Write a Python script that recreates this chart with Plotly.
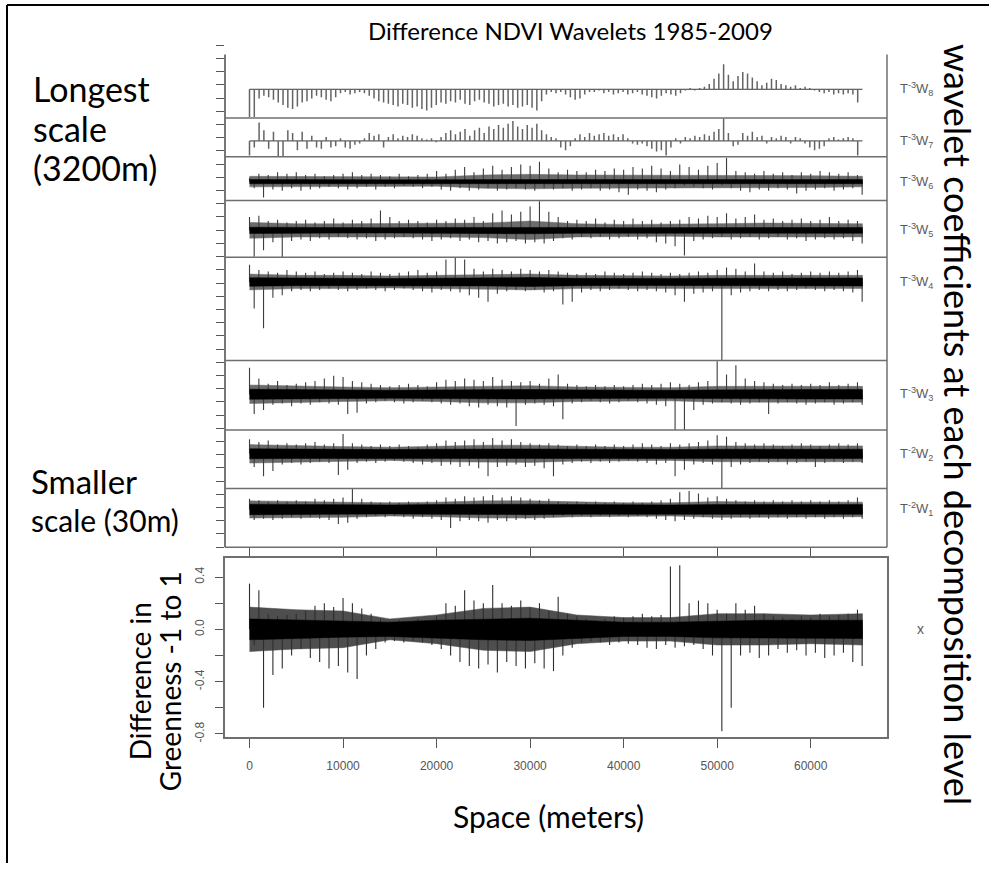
import plotly.graph_objects as go

# ---------------------------------------------------------------- data
# coarse-scale coefficients, one every 512 m along the transect
w8_step_m = 512
w8 = [-0.21, -0.21, -0.07, -0.05, -0.06, -0.08, -0.10, -0.12, -0.14, -0.15,
      -0.13, -0.10, -0.09, -0.07, -0.05, -0.06, -0.08, -0.09, -0.06, -0.03,
      -0.02, -0.04, -0.03, -0.02, -0.03, -0.05, -0.07, -0.09, -0.10, -0.11,
      -0.12, -0.13, -0.11, -0.12, -0.14, -0.13, -0.15, -0.16, -0.14, -0.12,
      -0.10, -0.11, -0.09, -0.10, -0.08, -0.11, -0.12, -0.09, -0.08, -0.10,
      -0.11, -0.13, -0.12, -0.11, -0.13, -0.12, -0.14, -0.13, -0.12, -0.14,
      -0.16, -0.09, -0.04, -0.02, -0.03, -0.02, -0.04, -0.06, -0.08, -0.07,
      -0.04, -0.02, -0.02, -0.01, -0.03, -0.02, -0.04, -0.03, -0.02, -0.04,
      -0.03, -0.02, -0.04, -0.05, -0.06, -0.07, -0.05, -0.03, -0.04, -0.05,
      -0.03, -0.01, 0.01, -0.01, 0.01, 0.02, 0.04, 0.08, 0.12, 0.19,
      0.11, 0.06, 0.10, 0.13, 0.12, 0.09, 0.06, 0.03, 0.05, 0.08,
      0.07, 0.04, 0.03, 0.02, 0.03, 0.01, 0.02, 0.01, -0.01, -0.02,
      -0.03, -0.02, -0.04, -0.03, -0.04, -0.03, -0.04, -0.10]
w7 = [-0.11, -0.05, 0.14, 0.08, -0.06, 0.07, -0.12, -0.13, 0.08, 0.06,
      -0.07, 0.07, -0.06, 0.04, -0.05, -0.06, 0.03, -0.05, -0.04, 0.02,
      -0.05, -0.06, -0.03, -0.02, 0.02, 0.06, 0.04, 0.05, -0.05, 0.03,
      0.05, 0.02, 0.04, 0.03, 0.05, 0.04, 0.02, 0.01, 0.02, -0.01,
      0.03, 0.06, 0.08, 0.05, 0.07, 0.09, 0.04, 0.08, 0.10, 0.06,
      0.11, 0.09, 0.12, 0.10, 0.13, 0.15, 0.11, 0.09, 0.12, 0.10,
      0.13, 0.08, 0.05, 0.03, 0.02, -0.05, -0.07, -0.04, 0.02, 0.05,
      0.03, 0.06, 0.04, 0.05, 0.06, 0.04, 0.05, 0.03, 0.05, 0.02,
      -0.02, -0.03, -0.02, -0.04, -0.06, -0.08, -0.07, -0.11, -0.05, 0.02,
      -0.02, 0.03, 0.02, 0.04, 0.03, 0.05, 0.04, 0.07, 0.09, 0.17,
      0.06, -0.04, -0.03, 0.06, 0.04, 0.07, 0.03, 0.04, -0.02, 0.03,
      0.02, 0.04, 0.03, -0.02, 0.03, 0.02, -0.02, -0.05, -0.07, -0.06,
      -0.04, 0.02, 0.03, 0.01, 0.02, 0.03, 0.02, -0.11]

# finer scales: largest positive / negative excursion in each 1 km bin
bin_step_m = 1000
w6_up = [0.03, 0.06, 0.05, 0.07, 0.06, 0.07, 0.05, 0.06, 0.04, 0.05,
         0.06, 0.07, 0.05, 0.06, 0.05, 0.04, 0.06, 0.04, 0.05, 0.06,
         0.08, 0.06, 0.09, 0.11, 0.07, 0.10, 0.12, 0.09, 0.11, 0.13,
         0.12, 0.15, 0.10, 0.07, 0.09, 0.08, 0.07, 0.09, 0.08, 0.10,
         0.09, 0.11, 0.10, 0.12, 0.10, 0.08, 0.13, 0.11, 0.09, 0.12,
         0.14, 0.18, 0.08, 0.07, 0.06, 0.08, 0.06, 0.07, 0.05, 0.07,
         0.06, 0.08, 0.07, 0.06, 0.07, 0.05]
w6_dn = [-0.05, -0.12, -0.06, -0.07, -0.05, -0.07, -0.06, -0.05, -0.04, -0.05,
         -0.06, -0.05, -0.04, -0.06, -0.04, -0.05, -0.03, -0.04, -0.05, -0.04,
         -0.06, -0.07, -0.05, -0.07, -0.06, -0.05, -0.07, -0.06, -0.05, -0.06,
         -0.07, -0.05, -0.06, -0.05, -0.07, -0.06, -0.05, -0.07, -0.06, -0.08,
         -0.10, -0.06, -0.07, -0.08, -0.06, -0.05, -0.03, -0.04, -0.05, -0.06,
         -0.03, -0.05, -0.07, -0.08, -0.06, -0.07, -0.05, -0.06, -0.09, -0.07,
         -0.06, -0.05, -0.07, -0.06, -0.05, -0.10]
w5_up = [0.10, 0.11, 0.07, 0.08, 0.06, 0.07, 0.08, 0.06, 0.07, 0.09,
         0.06, 0.08, 0.07, 0.09, 0.15, 0.10, 0.07, 0.08, 0.07, 0.06,
         0.08, 0.07, 0.09, 0.08, 0.10, 0.07, 0.13, 0.15, 0.12, 0.14,
         0.18, 0.22, 0.14, 0.10, 0.07, 0.08, 0.07, 0.09, 0.06, 0.08,
         0.07, 0.09, 0.07, 0.08, 0.06, 0.07, 0.08, 0.10, 0.09, 0.11,
         0.10, 0.13, 0.09, 0.10, 0.12, 0.08, 0.09, 0.07, 0.08, 0.09,
         0.07, 0.08, 0.10, 0.07, 0.08, 0.07]
w5_dn = [-0.20, -0.15, -0.09, -0.22, -0.08, -0.07, -0.08, -0.06, -0.07, -0.05,
         -0.06, -0.07, -0.06, -0.08, -0.07, -0.06, -0.05, -0.06, -0.07, -0.08,
         -0.07, -0.06, -0.08, -0.07, -0.09, -0.08, -0.10, -0.09, -0.08, -0.10,
         -0.09, -0.10, -0.08, -0.06, -0.07, -0.05, -0.06, -0.05, -0.07, -0.06,
         -0.05, -0.07, -0.06, -0.09, -0.10, -0.12, -0.19, -0.08, -0.07, -0.06,
         -0.05, -0.07, -0.06, -0.05, -0.07, -0.06, -0.05, -0.07, -0.06, -0.08,
         -0.07, -0.06, -0.07, -0.06, -0.08, -0.10]
w4_up = [0.13, 0.09, 0.08, 0.07, 0.09, 0.08, 0.07, 0.08, 0.06, 0.07,
         0.08, 0.07, 0.06, 0.08, 0.07, 0.06, 0.07, 0.08, 0.09, 0.07,
         0.08, 0.17, 0.19, 0.17, 0.10, 0.08, 0.10, 0.09, 0.08, 0.10,
         0.09, 0.08, 0.09, 0.08, 0.07, 0.06, 0.07, 0.06, 0.08, 0.07,
         0.06, 0.07, 0.08, 0.07, 0.06, 0.07, 0.06, 0.07, 0.08, 0.07,
         0.09, 0.11, 0.10, 0.08, 0.14, 0.08, 0.07, 0.08, 0.06, 0.07,
         0.08, 0.07, 0.08, 0.07, 0.08, 0.09]
w4_dn = [-0.20, -0.35, -0.12, -0.10, -0.07, -0.06, -0.07, -0.06, -0.05, -0.06,
         -0.07, -0.06, -0.05, -0.06, -0.07, -0.06, -0.05, -0.06, -0.07, -0.08,
         -0.06, -0.07, -0.08, -0.10, -0.12, -0.15, -0.09, -0.07, -0.06, -0.07,
         -0.06, -0.08, -0.07, -0.17, -0.15, -0.08, -0.06, -0.07, -0.06, -0.05,
         -0.06, -0.07, -0.06, -0.07, -0.08, -0.10, -0.15, -0.09, -0.08, -0.07,
         -0.59, -0.10, -0.08, -0.07, -0.06, -0.07, -0.06, -0.07, -0.06, -0.05,
         -0.06, -0.07, -0.06, -0.07, -0.08, -0.15]
w3_up = [0.20, 0.12, 0.08, 0.10, 0.07, 0.08, 0.09, 0.10, 0.12, 0.14,
         0.13, 0.10, 0.09, 0.08, 0.07, 0.06, 0.07, 0.08, 0.07, 0.06,
         0.09, 0.11, 0.10, 0.12, 0.11, 0.10, 0.13, 0.11, 0.10, 0.09,
         0.10, 0.08, 0.12, 0.15, 0.08, 0.07, 0.06, 0.07, 0.06, 0.07,
         0.06, 0.07, 0.08, 0.07, 0.08, 0.09, 0.08, 0.07, 0.09, 0.10,
         0.25, 0.15, 0.22, 0.12, 0.10, 0.09, 0.08, 0.07, 0.08, 0.07,
         0.08, 0.07, 0.09, 0.07, 0.08, 0.09]
w3_dn = [-0.15, -0.12, -0.08, -0.07, -0.09, -0.07, -0.08, -0.06, -0.07, -0.08,
         -0.15, -0.14, -0.07, -0.06, -0.05, -0.06, -0.07, -0.06, -0.05, -0.06,
         -0.07, -0.08, -0.07, -0.09, -0.10, -0.08, -0.09, -0.10, -0.24, -0.08,
         -0.07, -0.08, -0.09, -0.19, -0.07, -0.06, -0.05, -0.06, -0.07, -0.06,
         -0.05, -0.06, -0.07, -0.08, -0.09, -0.30, -0.27, -0.12, -0.08, -0.07,
         -0.06, -0.07, -0.08, -0.07, -0.06, -0.15, -0.07, -0.06, -0.07, -0.08,
         -0.07, -0.06, -0.08, -0.07, -0.06, -0.08]
w2_up = [0.11, 0.09, 0.10, 0.07, 0.08, 0.07, 0.08, 0.09, 0.07, 0.08,
         0.15, 0.08, 0.07, 0.06, 0.07, 0.06, 0.07, 0.06, 0.05, 0.07,
         0.08, 0.10, 0.09, 0.10, 0.11, 0.09, 0.12, 0.10, 0.11, 0.09,
         0.08, 0.07, 0.08, 0.07, 0.06, 0.07, 0.06, 0.07, 0.06, 0.07,
         0.06, 0.07, 0.08, 0.07, 0.06, 0.08, 0.07, 0.08, 0.09, 0.10,
         0.14, 0.13, 0.09, 0.08, 0.07, 0.08, 0.07, 0.06, 0.07, 0.08,
         0.07, 0.06, 0.07, 0.08, 0.07, 0.08]
w2_dn = [-0.10, -0.17, -0.13, -0.08, -0.07, -0.08, -0.07, -0.06, -0.07, -0.16,
         -0.12, -0.07, -0.06, -0.07, -0.06, -0.05, -0.06, -0.07, -0.08, -0.07,
         -0.09, -0.08, -0.10, -0.09, -0.11, -0.17, -0.10, -0.09, -0.08, -0.10,
         -0.09, -0.11, -0.17, -0.08, -0.07, -0.06, -0.07, -0.06, -0.07, -0.06,
         -0.05, -0.06, -0.07, -0.08, -0.07, -0.17, -0.12, -0.08, -0.07, -0.08,
         -0.26, -0.10, -0.08, -0.07, -0.06, -0.07, -0.06, -0.08, -0.07, -0.06,
         -0.10, -0.07, -0.06, -0.07, -0.06, -0.07]
w1_up = [0.08, 0.07, 0.06, 0.07, 0.06, 0.07, 0.06, 0.08, 0.07, 0.08,
         0.09, 0.16, 0.08, 0.06, 0.05, 0.06, 0.05, 0.06, 0.05, 0.06,
         0.07, 0.09, 0.08, 0.10, 0.09, 0.10, 0.11, 0.09, 0.10, 0.09,
         0.08, 0.07, 0.08, 0.06, 0.05, 0.06, 0.05, 0.06, 0.05, 0.06,
         0.05, 0.06, 0.05, 0.06, 0.07, 0.08, 0.13, 0.14, 0.12, 0.09,
         0.10, 0.08, 0.07, 0.06, 0.07, 0.06, 0.07, 0.06, 0.07, 0.06,
         0.07, 0.06, 0.07, 0.06, 0.07, 0.09]
w1_dn = [-0.08, -0.07, -0.08, -0.07, -0.06, -0.07, -0.06, -0.07, -0.08, -0.11,
         -0.10, -0.07, -0.06, -0.05, -0.06, -0.05, -0.06, -0.07, -0.06, -0.07,
         -0.08, -0.14, -0.09, -0.08, -0.09, -0.10, -0.08, -0.09, -0.08, -0.07,
         -0.08, -0.07, -0.06, -0.05, -0.06, -0.05, -0.06, -0.05, -0.06, -0.05,
         -0.06, -0.05, -0.06, -0.07, -0.08, -0.09, -0.08, -0.07, -0.06, -0.07,
         -0.08, -0.07, -0.06, -0.07, -0.06, -0.07, -0.06, -0.07, -0.06, -0.07,
         -0.06, -0.07, -0.06, -0.07, -0.06, -0.07]

# original difference signal (NDVI 2009 - 1985), same 1 km bins
x_up = [0.35, 0.30, 0.12, 0.10, 0.11, 0.12, 0.14, 0.18, 0.20, 0.17,
        0.24, 0.20, 0.16, 0.12, 0.08, 0.06, 0.07, 0.06, 0.08, 0.07,
        0.10, 0.20, 0.18, 0.30, 0.22, 0.20, 0.34, 0.20, 0.18, 0.22,
        0.16, 0.20, 0.14, 0.25, 0.12, 0.10, 0.08, 0.07, 0.08, 0.10,
        0.09, 0.10, 0.12, 0.10, 0.11, 0.48, 0.49, 0.20, 0.22, 0.20,
        0.15, 0.12, 0.20, 0.15, 0.18, 0.12, 0.10, 0.09, 0.08, 0.10,
        0.09, 0.12, 0.10, 0.11, 0.12, 0.15]
x_dn = [-0.12, -0.60, -0.35, -0.30, -0.20, -0.15, -0.22, -0.25, -0.30, -0.28,
        -0.33, -0.38, -0.20, -0.15, -0.10, -0.09, -0.10, -0.09, -0.10, -0.12,
        -0.15, -0.20, -0.25, -0.28, -0.30, -0.27, -0.33, -0.25, -0.28, -0.30,
        -0.26, -0.30, -0.32, -0.20, -0.14, -0.10, -0.09, -0.10, -0.12, -0.10,
        -0.11, -0.12, -0.14, -0.15, -0.12, -0.14, -0.13, -0.12, -0.15, -0.20,
        -0.78, -0.60, -0.20, -0.18, -0.22, -0.20, -0.15, -0.18, -0.16, -0.20,
        -0.18, -0.22, -0.20, -0.18, -0.25, -0.28]

# half-widths of the dense central band (core) and of its fringe of short
# coefficients, every 5 km
core_x_m = [0, 5000, 10000, 15000, 20000, 25000, 30000, 35000, 40000,
            45000, 50000, 55000, 60000, 65536]
w6_core = [0.016, 0.014, 0.014, 0.013, 0.014, 0.016, 0.017, 0.016, 0.016, 0.015, 0.014, 0.015, 0.016, 0.016]
w5_core = [0.024, 0.021, 0.021, 0.02, 0.022, 0.023, 0.026, 0.022, 0.02, 0.02, 0.021, 0.022, 0.022, 0.022]
w4_core = [0.032, 0.028, 0.028, 0.026, 0.029, 0.03, 0.034, 0.028, 0.026, 0.026, 0.028, 0.028, 0.028, 0.03]
w3_core = [0.038, 0.033, 0.033, 0.03, 0.033, 0.036, 0.036, 0.033, 0.03, 0.03, 0.033, 0.036, 0.036, 0.036]
w2_core = [0.038, 0.035, 0.035, 0.032, 0.035, 0.037, 0.037, 0.035, 0.032, 0.032, 0.035, 0.035, 0.035, 0.035]
w1_core = [0.04, 0.037, 0.037, 0.034, 0.037, 0.04, 0.04, 0.037, 0.034, 0.034, 0.037, 0.037, 0.037, 0.037]
x_core = [0.08, 0.07, 0.06, 0.055, 0.07, 0.08, 0.085, 0.07, 0.055, 0.055, 0.065, 0.07, 0.07, 0.07]
w6_fringe = [0.04, 0.04, 0.035, 0.035, 0.035, 0.05, 0.055, 0.05, 0.05, 0.05, 0.045, 0.045, 0.045, 0.04]
w5_fringe = [0.06, 0.05, 0.05, 0.05, 0.05, 0.055, 0.07, 0.05, 0.045, 0.045, 0.05, 0.055, 0.05, 0.05]
w4_fringe = [0.06, 0.05, 0.05, 0.045, 0.05, 0.055, 0.06, 0.05, 0.045, 0.045, 0.05, 0.05, 0.05, 0.05]
w3_fringe = [0.07, 0.06, 0.055, 0.05, 0.055, 0.065, 0.065, 0.055, 0.05, 0.05, 0.06, 0.06, 0.06, 0.06]
w2_fringe = [0.07, 0.06, 0.055, 0.05, 0.06, 0.065, 0.065, 0.055, 0.05, 0.05, 0.06, 0.06, 0.06, 0.06]
w1_fringe = [0.065, 0.06, 0.06, 0.05, 0.055, 0.065, 0.065, 0.055, 0.05, 0.05, 0.06, 0.055, 0.055, 0.055]
x_fringe = [0.17, 0.15, 0.14, 0.08, 0.11, 0.16, 0.17, 0.11, 0.09, 0.09, 0.12, 0.12, 0.11, 0.12]

signal_length_m = 65536
x_ticks = [0, 10000, 20000, 30000, 40000, 50000, 60000]
y_ticks = [-0.8, -0.6, -0.4, -0.2, 0.0, 0.2, 0.4]
y_tick_text = ["-0.8", "", "-0.4", "", "0.0", "", "0.4"]

levels = ["W8", "W7", "W6", "W5", "W4", "W3", "W2", "W1"]
level_labels = ["T<sup>-3</sup>W<sub>8</sub>", "T<sup>-3</sup>W<sub>7</sub>",
                "T<sup>-3</sup>W<sub>6</sub>", "T<sup>-3</sup>W<sub>5</sub>",
                "T<sup>-3</sup>W<sub>4</sub>", "T<sup>-3</sup>W<sub>3</sub>",
                "T<sup>-2</sup>W<sub>2</sub>", "T<sup>-2</sup>W<sub>1</sub>"]

# ---------------------------------------------------------------- layout constants
W, H = 989, 869
PLOT_L, PLOT_R = 225, 887          # pixel edges of the plotting region
STACK_BOTTOM = 551                 # pixel bottom of the stacked wavelet panels
PX_PER_UNIT = 133.0                # common vertical scale of the stacked panels
X_RANGE = [-2621, 68157]
# vertical extent of each stacked panel, in coefficient units
panel_range = {"W8": (-0.218, 0.263), "W7": (-0.12, 0.173), "W6": (-0.143, 0.188),
               "W5": (-0.203, 0.226), "W4": (-0.594, 0.188), "W3": (-0.271, 0.256),
               "W2": (-0.263, 0.180), "W1": (-0.286, 0.158)}
X_PANEL_TOP, X_PANEL_BOTTOM = 562, 742
X_PANEL_RANGE = [-0.823, 0.545]

TEXT_FONT = "Lato"
AXIS_FONT = "Liberation Sans"
FRAME = "#6f6f6f"


def fx(px):
    return px / W


def fy(px):
    return 1 - px / H


def stems(xs, vals):
    sx, sy = [], []
    for a, v in zip(xs, vals):
        sx += [a, a, None]
        sy += [0, v, None]
    return sx, sy


fig = go.Figure()

dense = {
    "W6": (w6_up, w6_dn, w6_core, w6_fringe), "W5": (w5_up, w5_dn, w5_core, w5_fringe),
    "W4": (w4_up, w4_dn, w4_core, w4_fringe), "W3": (w3_up, w3_dn, w3_core, w3_fringe),
    "W2": (w2_up, w2_dn, w2_core, w2_fringe), "W1": (w1_up, w1_dn, w1_core, w1_fringe),
}
coarse = {"W8": w8, "W7": w7}


def band(half, color, xa, ya):
    cx = core_x_m + core_x_m[::-1]
    cy = half + [-c for c in half[::-1]]
    fig.add_trace(go.Scatter(x=cx, y=cy, fill="toself", fillcolor=color,
                             line=dict(color=color, width=0.5), mode="lines",
                             xaxis=xa, yaxis=ya, hoverinfo="skip", showlegend=False))


def add_dense(up, dn, core, fringe, xa, ya, spike_color="#3c3c3c", fringe_color="#6c6c6c"):
    band(fringe, fringe_color, xa, ya)
    ux = [i * bin_step_m for i in range(len(up))]
    dx = [i * bin_step_m + bin_step_m / 2 for i in range(len(dn))]
    sx1, sy1 = stems(ux, up)
    sx2, sy2 = stems(dx, dn)
    fig.add_trace(go.Scatter(x=sx1 + sx2, y=sy1 + sy2, mode="lines",
                             line=dict(color=spike_color, width=1.1),
                             xaxis=xa, yaxis=ya, hoverinfo="skip", showlegend=False))
    band(core, "black", xa, ya)


# stacked wavelet panels, laid out from the bottom up
domains = {}
y_px = STACK_BOTTOM
for lv in reversed(levels):
    lo, hi = panel_range[lv]
    h = (hi - lo) * PX_PER_UNIT
    domains[lv] = (y_px - h, y_px)
    y_px -= h
stack_top = y_px

layout_axes = {}
for i, lv in enumerate(levels):
    ax = i + 2
    ya = f"y{ax}"
    top, bot = domains[lv]
    lo, hi = panel_range[lv]
    layout_axes[f"yaxis{ax}"] = dict(domain=[fy(bot), fy(top)], range=[lo, hi],
                                     anchor="x", visible=False, fixedrange=True)
    fig.add_trace(go.Scatter(x=[0, signal_length_m], y=[0, 0], mode="lines",
                             line=dict(color="#3a3a3a", width=1), xaxis="x", yaxis=ya,
                             hoverinfo="skip", showlegend=False))
    if lv in coarse:
        vals = coarse[lv]
        xs = [k * w8_step_m for k in range(len(vals))]
        sx, sy = stems(xs, vals)
        fig.add_trace(go.Scatter(x=sx, y=sy, mode="lines",
                                 line=dict(color="#646464", width=1.5),
                                 xaxis="x", yaxis=ya, hoverinfo="skip", showlegend=False))
    else:
        up, dn, core, fringe = dense[lv]
        add_dense(up, dn, core, fringe, "x", ya)

# tick ruler along the left edge of the stack (0.1-unit spacing)
RULER_UNITS = 3.8
layout_axes["yaxis10"] = dict(domain=[fy(STACK_BOTTOM), fy(STACK_BOTTOM - RULER_UNITS * PX_PER_UNIT)],
                              range=[0, RULER_UNITS], anchor="x", dtick=0.1, tick0=0,
                              ticks="outside", ticklen=8, tickwidth=1, tickcolor="#555",
                              showticklabels=False, showline=False, showgrid=False,
                              zeroline=False, fixedrange=True)
fig.add_trace(go.Scatter(x=[None], y=[None], xaxis="x", yaxis="y10",
                         hoverinfo="skip", showlegend=False))

# bottom panel: the difference signal itself
add_dense(x_up, x_dn, x_core, x_fringe, "x2", "y11", spike_color="#2e2e2e",
          fringe_color="#4e4e4e")

fig.update_layout(
    width=W, height=H, margin=dict(l=0, r=0, t=0, b=0),
    paper_bgcolor="white", plot_bgcolor="rgba(0,0,0,0)", showlegend=False,
    xaxis=dict(domain=[fx(PLOT_L), fx(PLOT_R)], range=X_RANGE, anchor="y9",
               tickvals=x_ticks, ticks="outside", ticklen=10, tickwidth=1, tickcolor="#555",
               showticklabels=False, showline=False, showgrid=False, zeroline=False,
               fixedrange=True),
    xaxis2=dict(domain=[fx(PLOT_L), fx(PLOT_R)], range=X_RANGE, anchor="y11",
                tickvals=x_ticks, ticktext=[str(v) for v in x_ticks],
                ticks="outside", ticklen=9, tickwidth=1, tickcolor="#555",
                tickfont=dict(family=AXIS_FONT, size=12, color="#555"),
                showline=True, mirror=True, linecolor=FRAME, linewidth=1.5,
                showgrid=False, zeroline=False, fixedrange=True, ticklabelstandoff=8),
    yaxis11=dict(domain=[fy(X_PANEL_BOTTOM), fy(X_PANEL_TOP)], range=X_PANEL_RANGE,
                 anchor="x2", tickvals=y_ticks, ticktext=y_tick_text, tickangle=-90,
                 ticks="outside", ticklen=8, tickwidth=1, tickcolor="#555",
                 tickfont=dict(family=AXIS_FONT, size=12, color="#555"),
                 showline=True, mirror=True, linecolor=FRAME, linewidth=1.5,
                 showgrid=False, zeroline=False, fixedrange=True, ticklabelstandoff=6),
    **layout_axes,
)

# frame of the stacked panels
shapes = [
    dict(type="line", xref="paper", yref="paper", x0=fx(PLOT_L), x1=fx(PLOT_L),
         y0=fy(stack_top), y1=fy(STACK_BOTTOM), line=dict(color="#4a4a4a", width=1.5)),
    dict(type="line", xref="paper", yref="paper", x0=fx(PLOT_R), x1=fx(PLOT_R),
         y0=fy(stack_top), y1=fy(STACK_BOTTOM), line=dict(color=FRAME, width=1.5)),
]
for lv in levels[1:]:
    top = domains[lv][0]
    shapes.append(dict(type="line", xref="paper", yref="paper", x0=fx(PLOT_L), x1=fx(PLOT_R),
                       y0=fy(top), y1=fy(top), line=dict(color=FRAME, width=1.5)))
shapes.append(dict(type="line", xref="paper", yref="paper", x0=fx(PLOT_L), x1=fx(PLOT_R),
                   y0=fy(STACK_BOTTOM), y1=fy(STACK_BOTTOM), line=dict(color=FRAME, width=1.5)))
# outer border of the figure
shapes.append(dict(type="line", xref="paper", yref="paper", x0=fx(7), x1=1,
                   y0=fy(5), y1=fy(5), line=dict(color="black", width=2)))
shapes.append(dict(type="line", xref="paper", yref="paper", x0=fx(7), x1=fx(7),
                   y0=fy(5), y1=0, line=dict(color="black", width=2)))
fig.update_layout(shapes=shapes)


def note(text, x, y, size, color="black", family=TEXT_FONT, xanchor="center", angle=0):
    fig.add_annotation(text=text, x=fx(x), y=fy(y), xref="paper", yref="paper",
                       showarrow=False, xanchor=xanchor, yanchor="middle",
                       textangle=angle, font=dict(family=family, size=size, color=color))


note("Difference NDVI Wavelets 1985-2009", 570, 31, 24)
note("Longest", 31, 89, 34, xanchor="left")
note("scale", 31, 129, 34, xanchor="left")
note("(3200m)", 31, 169, 34, xanchor="left")
note("Smaller", 29, 484, 33, xanchor="left")
note("scale (30m)", 29, 524, 30, xanchor="left")
note("Difference in", 140, 686, 28, angle=-90)
note("Greenness -1 to 1", 170, 686, 28, angle=-90)
note("Space (meters)", 548, 822, 30)
note("wavelet coefficients at each decomposition level", 958, 427, 36, angle=90)

for lv, lab in zip(levels, level_labels):
    lo, hi = panel_range[lv]
    base_px = domains[lv][1] + lo * PX_PER_UNIT
    note(lab, 898, base_px, 13, color="#5a5a5a", family=AXIS_FONT, xanchor="left")
note("x", 920, X_PANEL_TOP + X_PANEL_RANGE[1] / (X_PANEL_RANGE[1] - X_PANEL_RANGE[0])
     * (X_PANEL_BOTTOM - X_PANEL_TOP), 14, color="#5a5a5a", family=AXIS_FONT)

fig.write_html("out.html")
